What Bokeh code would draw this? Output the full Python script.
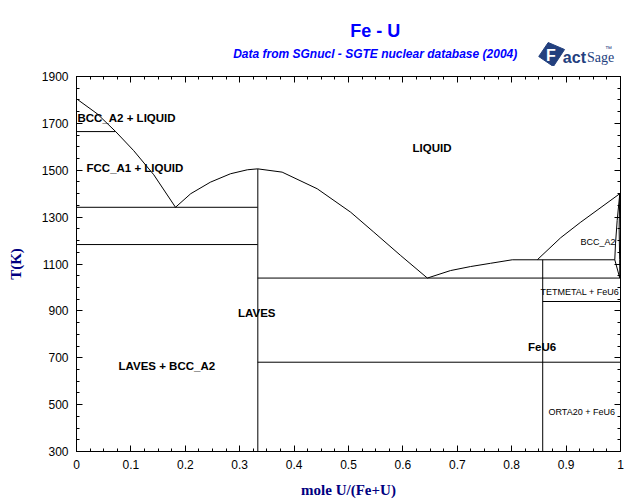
from bokeh.plotting import figure
from bokeh.layouts import column
from bokeh.models import (FixedTicker, LinearAxis, Label, Range1d, CustomJSTickFormatter)
from bokeh.core.properties import value
from bokeh.embed import file_html
from bokeh.resources import INLINE

# ---------------- data: mole fraction U  vs  temperature (K) ----------------
liq_fe_x = [0.0, 0.038, 0.072, 0.105, 0.142, 0.182]
liq_fe_T = [1805, 1741, 1665, 1584, 1481, 1342]

liq_laves_left_x = [0.182, 0.210, 0.246, 0.283, 0.314, 0.333]
liq_laves_left_T = [1342, 1400, 1449, 1485, 1502, 1506]

liq_laves_right_x = [0.333, 0.378, 0.4425, 0.504, 0.5465, 0.596, 0.645]
liq_laves_right_T = [1506, 1492, 1421, 1321, 1236, 1136, 1040]

liq_feu6_x = [0.645, 0.6875, 0.724, 0.761, 0.801, 0.847]
liq_feu6_T = [1040, 1072, 1089, 1103, 1118, 1118]

liq_u_x = [0.847, 0.890, 0.926, 0.9987]
liq_u_T = [1118, 1212, 1277, 1400]

sol_u_x = [0.9987, 0.9939, 0.9908, 0.9895, 0.9987]
sol_u_T = [1400, 1286, 1186, 1118, 1040]

bcc_u_edge_x = [0.9987, 0.9975, 0.9985, 0.9987]
bcc_u_edge_T = [1400, 1250, 1118, 1040]

# isotherms (invariant / transition lines)
iso_x0 = [0.0, 0.0, 0.0, 0.333, 0.847, 0.857, 0.333]
iso_x1 = [0.072, 0.333, 0.333, 1.0, 0.9895, 1.0, 1.0]
iso_T = [1665, 1342, 1183, 1040, 1118, 940, 681]

# stoichiometric compounds: UFe2 (LAVES) and FeU6
comp_x = [0.3333, 0.857]
comp_T_top = [1506, 1118]
comp_T_bottom = [300, 300]

# axes ticks
x_major = [0.0, 0.1, 0.2, 0.3, 0.4, 0.5, 0.6, 0.7, 0.8, 0.9, 1.0]
x_minor = [i * 0.025 for i in range(41)]
y_major = [300, 500, 700, 900, 1100, 1300, 1500, 1700, 1900]
y_minor = list(range(300, 1901, 50))

W = 632
HDR_H = 66

# ---------------- header (title, subtitle, logo) ----------------
hdr = figure(width=W, height=HDR_H, x_range=Range1d(0, W), y_range=Range1d(HDR_H, 0),
             output_backend="svg", toolbar_location=None,
             x_axis_location=None, y_axis_location=None,
             min_border=0, min_border_left=0, min_border_right=0,
             min_border_top=0, min_border_bottom=0)
hdr.title = None
hdr.xgrid.visible = False
hdr.ygrid.visible = False
hdr.outline_line_color = None

hdr.text(x=[347], y=[30], text=["Fe - U"], text_font=value("Liberation Sans"),
         text_font_size="18px", text_font_style="bold", text_color="#0000FF",
         text_align="center", text_baseline="middle")
hdr.text(x=[347], y=[53], text=["Data from SGnucl - SGTE nuclear database (2004)"],
         text_font=value("Liberation Sans"), text_font_size="12px",
         text_font_style="bold italic", text_color="#0000FF",
         text_align="center", text_baseline="middle")

navy = "#23407E"
hdr.patch(x=[537, 548, 567, 554], y=[56, 42, 49, 66], fill_color=navy, line_color=navy)
hdr.text(x=[551], y=[55], text=["F"], text_font=value("Liberation Sans"),
         text_font_size="16px", text_font_style="bold", text_color="white",
         text_align="center", text_baseline="middle")
hdr.text(x=[565], y=[57], text=["act"], text_font=value("Liberation Sans"),
         text_font_size="16px", text_font_style="bold", text_color=navy,
         text_align="left", text_baseline="middle")
hdr.text(x=[593], y=[57], text=["Sage"], text_font=value("Liberation Sans Narrow"),
         text_font_size="14px", text_color=navy,
         text_align="left", text_baseline="middle")
hdr.text(x=[614], y=[48], text=["™"], text_font=value("Liberation Sans"),
         text_font_size="7px", text_color=navy,
         text_align="left", text_baseline="middle")

# ---------------- main diagram ----------------
p = figure(width=W, height=436, x_range=Range1d(0, 1), y_range=Range1d(300, 1900),
           output_backend="svg", toolbar_location=None,
           min_border_left=76, min_border_right=12, min_border_top=10, min_border_bottom=51,
           x_axis_label="mole U/(Fe+U)", y_axis_label="T(K)")
p.title = None
p.xgrid.visible = False
p.ygrid.visible = False
p.outline_line_color = "black"
p.outline_line_width = 1

xt = FixedTicker(ticks=x_major, minor_ticks=x_minor)
yt = FixedTicker(ticks=y_major, minor_ticks=y_minor)
fmt = CustomJSTickFormatter(code="return tick.toFixed(1).replace(/\\.0$/, '');")

def style_axis(ax, ticker, show_labels):
    ax.ticker = ticker
    ax.major_tick_in = 6
    ax.major_tick_out = 0
    ax.minor_tick_in = 3
    ax.minor_tick_out = 0
    ax.axis_line_color = "black"
    ax.major_tick_line_color = "black"
    ax.minor_tick_line_color = "black"
    ax.major_label_text_font = "Liberation Sans"
    if show_labels:
        ax.major_label_text_font_size = "12px"
        ax.major_label_text_color = "black"
    else:
        ax.major_label_text_font_size = "0px"
        ax.major_label_text_color = None
        ax.major_label_standoff = 0
    ax.axis_label_text_font = "Liberation Serif"
    ax.axis_label_text_font_style = "bold"
    ax.axis_label_text_font_size = "15px"
    ax.axis_label_text_color = "#000080"

xa = p.xaxis[0]
style_axis(xa, xt, True)
xa.formatter = fmt
xa.major_label_standoff = 8
xa.axis_label_standoff = 10

ya = p.yaxis[0]
style_axis(ya, yt, True)
ya.major_label_standoff = 8
ya.axis_label_standoff = 15

top = LinearAxis()
style_axis(top, xt, False)
p.add_layout(top, "above")

right = LinearAxis()
style_axis(right, yt, False)
p.add_layout(right, "right")

# phase boundaries
for xs, ts in [(liq_fe_x, liq_fe_T), (liq_laves_left_x, liq_laves_left_T),
               (liq_laves_right_x, liq_laves_right_T), (liq_feu6_x, liq_feu6_T),
               (liq_u_x, liq_u_T), (sol_u_x, sol_u_T), (bcc_u_edge_x, bcc_u_edge_T)]:
    p.line(xs, ts, line_color="black", line_width=1)

p.segment(x0=iso_x0, y0=iso_T, x1=iso_x1, y1=iso_T, line_color="black", line_width=1)
p.segment(x0=comp_x, y0=comp_T_bottom, x1=comp_x, y1=comp_T_top, line_color="black", line_width=1)

# region labels (positions given in page pixels, converted to data)
def px2x(px):
    return (px - 76) / 544.0

def py2T(py):
    return 1900 - (py - 76) / 0.234375

def region(text, px, py, size="11.5px", style="bold"):
    p.add_layout(Label(x=px2x(px), y=py2T(py), text=text, text_font="Liberation Sans",
                       text_font_size=size, text_font_style=style, text_color="black",
                       text_align="left", text_baseline="middle"))

region("BCC_A2 + LIQUID", 77, 117)
region("FCC_A1 + LIQUID", 86, 167)
region("LIQUID", 412, 147)
region("LAVES", 237.5, 312)
region("LAVES + BCC_A2", 118, 365)
region("FeU6", 527.5, 346)
region("BCC_A2", 580, 241, "9px", "normal")
region("TETMETAL + FeU6", 540, 291, "9px", "normal")
region("ORTA20 + FeU6", 548, 411, "9px", "normal")

layout = column(hdr, p, spacing=0)
open("out.html", "w").write(file_html(layout, INLINE))
